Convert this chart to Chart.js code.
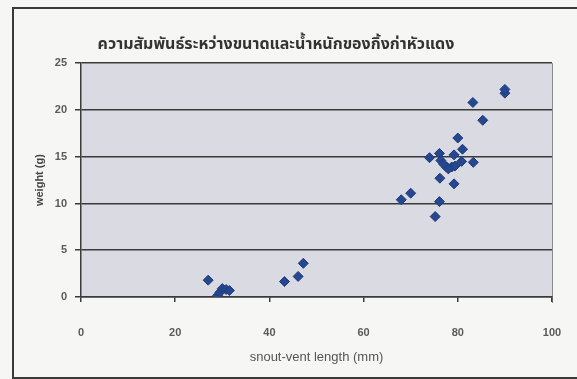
<!DOCTYPE html>
<html>
<head>
<meta charset="utf-8">
<script src="https://cdn.jsdelivr.net/npm/chart.js@4.4.1/dist/chart.umd.min.js"></script>
<style>
  html, body { margin: 0; padding: 0; background: #f6f6f4; }
  #wrap { position: relative; width: 577px; height: 379px; overflow: hidden; }
  #frame { position: absolute; left: 12px; top: 7px; width: 564px; height: 368px;
           border: 2px solid #3a3a3a; pointer-events: none; }
  canvas { position: absolute; left: 0; top: 0; }
</style>
</head>
<body>
<div id="wrap">
  <canvas id="c" width="577" height="379"></canvas>
  <div id="frame"></div>
</div>
<script>
// snout-vent length (mm) and weight (g) for each animal
const lengthMm = [27, 29, 29.5, 30, 30.8, 31.5, 43.2, 46.1, 47.2,
                  68, 70, 75.2, 76.1, 76.2, 79.2, 74, 76.1, 76.4, 77.6, 78.7,
                  79.4, 79.2, 80.8, 81, 80, 83.3, 83.2, 85.3, 90, 90, 77, 78];
const weightG  = [1.8, 0.15, 0.5, 0.9, 0.8, 0.7, 1.65, 2.2, 3.6,
                  10.4, 11.1, 8.6, 10.2, 12.7, 12.1, 14.9, 15.35, 14.6, 13.9, 13.9,
                  14.0, 15.2, 14.5, 15.8, 17.0, 14.4, 20.8, 18.9, 21.8, 22.2, 14.2, 13.7];
const xTicks = [0, 20, 40, 60, 80, 100];
const yTicks = [0, 5, 10, 15, 20, 25];
const chartTitle = 'ความสัมพันธ์ระหว่างขนาดและน้ำหนักของกิ้งก่าหัวแดง';
const xTitle = 'snout-vent length (mm)';
const yTitle = 'weight (g)';

const points = lengthMm.map((x, i) => ({ x: x, y: weightG[i] }));

const plotBg = {
  id: 'plotBg',
  beforeDraw(chart) {
    const { ctx, chartArea: a } = chart;
    ctx.save();
    ctx.fillStyle = '#dadbe2';
    ctx.fillRect(a.left, a.top, a.right - a.left, a.bottom - a.top);
    ctx.strokeStyle = '#8a8a8a';
    ctx.lineWidth = 1;
    ctx.beginPath();
    ctx.moveTo(a.right + 0.5, a.top);
    ctx.lineTo(a.right + 0.5, a.bottom + 6);
    ctx.stroke();
    ctx.restore();
  }
};

const tickFont = { family: '"Liberation Sans", Arial, sans-serif', size: 11, weight: 'bold' };

new Chart(document.getElementById('c'), {
  type: 'scatter',
  data: {
    datasets: [{
      data: points,
      pointStyle: 'rectRot',
      pointRadius: 5,
      pointHoverRadius: 5,
      backgroundColor: '#26468e',
      borderColor: '#1f3c80',
      borderWidth: 1
    }]
  },
  options: {
    responsive: false,
    animation: false,
    layout: { padding: { left: 0, right: 25, top: 0, bottom: 0 } },
    plugins: {
      legend: { display: false },
      tooltip: { enabled: false },
      title: {
        display: true,
        text: chartTitle,
        color: '#333333',
        font: { family: '"Noto Sans Thai", "Noto Sans", "DejaVu Sans", sans-serif', size: 16, weight: 'bold' },
        padding: { top: 36, bottom: 8 }
      }
    },
    scales: {
      x: {
        type: 'linear',
        min: 0, max: 100,
        afterBuildTicks(s) { s.ticks = xTicks.map(v => ({ value: v })); },
        afterFit(s) { s.height = 82; s.paddingLeft = 0; s.paddingRight = 0; },
        ticks: { color: '#5a5a5a', font: tickFont, padding: 24 },
        grid: { drawOnChartArea: false, drawTicks: true, tickLength: 5, color: '#3a3a3a', lineWidth: 1.5 },
        border: { display: true, color: '#3a3a3a', width: 1.5 },
        title: {
          display: true, text: xTitle, color: '#555555',
          font: { family: '"Liberation Sans", Arial, sans-serif', size: 13 },
          padding: { top: 0, bottom: 14 }
        }
      },
      y: {
        type: 'linear',
        min: 0, max: 25,
        afterBuildTicks(s) { s.ticks = yTicks.map(v => ({ value: v })); },
        afterFit(s) { s.width = 81; },
        ticks: { color: '#5a5a5a', font: tickFont, padding: 8 },
        grid: { drawOnChartArea: true, drawTicks: true, tickLength: 6, color: '#3a3a3a', lineWidth: 1.5 },
        border: { display: true, color: '#3a3a3a', width: 1.5 },
        title: {
          display: true, text: yTitle, color: '#444444',
          font: { family: '"Liberation Sans", Arial, sans-serif', size: 11, weight: 'bold' },
          padding: { top: 33, bottom: 0 }
        }
      }
    }
  },
  plugins: [plotBg]
});
</script>
</body>
</html>
